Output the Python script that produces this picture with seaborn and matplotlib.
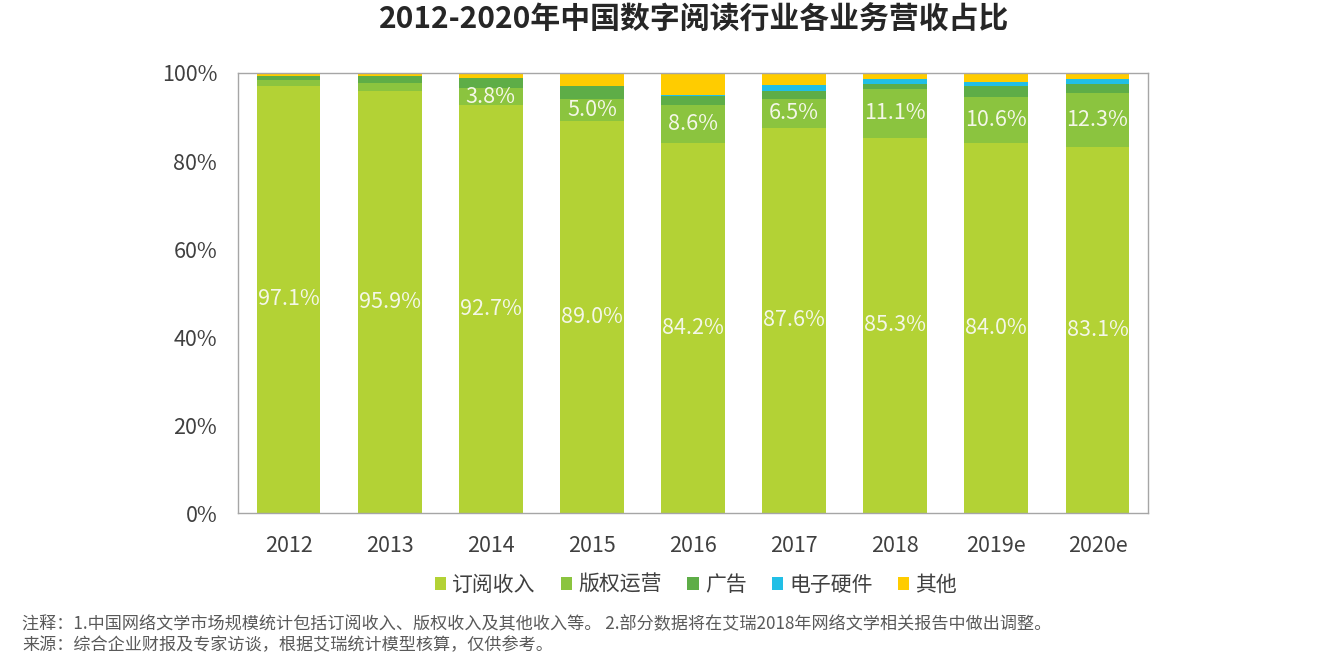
import numpy as np
import pandas as pd
import matplotlib.pyplot as plt
import seaborn as sns
from matplotlib.patches import Patch

years = ["2012", "2013", "2014", "2015", "2016", "2017", "2018", "2019e", "2020e"]
subscription = [97.1, 95.9, 92.7, 89.0, 84.2, 87.6, 85.3, 84.0, 83.1]
copyright_ops = [1.2, 1.8, 3.8, 5.0, 8.6, 6.5, 11.1, 10.6, 12.3]
advertising = [1.1, 1.7, 2.3, 3.1, 2.0, 1.7, 1.1, 2.5, 2.1]
hardware = [0.0, 0.0, 0.0, 0.0, 0.2, 1.4, 1.1, 0.8, 1.1]
other = [0.6, 0.6, 1.2, 2.9, 5.0, 2.8, 1.4, 2.1, 1.4]

series_names = ["订阅收入", "版权运营", "广告", "电子硬件", "其他"]
series_colors = ["#B3D235", "#8BC43F", "#5EAD47", "#21BFE6", "#FFCC00"]

sns.set_style("white")
plt.rcParams["font.family"] = ["Noto Sans CJK SC", "DejaVu Sans"]

df = pd.DataFrame({
    "year": years,
    "订阅收入": subscription,
    "版权运营": copyright_ops,
    "广告": advertising,
    "电子硬件": hardware,
    "其他": other,
})

# cumulative tops, drawn from the tallest down so each layer covers the one behind
cum = df[series_names].cumsum(axis=1)

fig = plt.figure(figsize=(13.34, 6.54), dpi=100)
ax = fig.add_axes([238 / 1334, 1 - 513 / 654, 910 / 1334, 440 / 654])

for name, color in reversed(list(zip(series_names, series_colors))):
    sns.barplot(x=df["year"], y=cum[name], color=color, saturation=1,
                width=0.63, linewidth=0, ax=ax)

# value labels
text_color = "#F4F7E8"
for i in range(len(years)):
    ax.text(i, subscription[i] / 2, f"{subscription[i]:.1f}%", ha="center", va="center",
            fontsize=15.5, color=text_color)
    if i >= 2:
        ax.text(i, subscription[i] + copyright_ops[i] / 2, f"{copyright_ops[i]:.1f}%",
                ha="center", va="center", fontsize=15.5, color=text_color)

ax.set_xlim(-0.5, len(years) - 0.5)
ax.set_ylim(0, 100)
ax.set_yticks([0, 20, 40, 60, 80, 100])
ax.set_yticklabels([f"{v}%" for v in [0, 20, 40, 60, 80, 100]])
ax.set_xlabel("")
ax.set_ylabel("")
ax.tick_params(axis="both", labelsize=15.5, colors="#404040", length=0)
ax.tick_params(axis="x", pad=16)
ax.tick_params(axis="y", pad=15)
for side in ["left", "right", "top", "bottom"]:
    ax.spines[side].set_visible(True)
    ax.spines[side].set_color("#A6A6A6")
    ax.spines[side].set_linewidth(1)

fig.text(0.52, 1 - 20 / 654, "2012-2020年中国数字阅读行业各业务营收占比", ha="center", va="center",
         fontsize=21.5, fontweight="bold", color="#262626")

handles = [Patch(facecolor=c, edgecolor="none") for c in series_colors]
fig.legend(handles, series_names, loc="center", bbox_to_anchor=(696 / 1334, 1 - 585 / 654),
           ncol=5, frameon=False, fontsize=15, handlelength=0.55, handleheight=0.55,
           handletextpad=0.3, columnspacing=1.2, labelcolor="#404040")

fig.text(22 / 1334, 1 - 624 / 654,
         "注释：1.中国网络文学市场规模统计包括订阅收入、版权收入及其他收入等。 2.部分数据将在艾瑞2018年网络文学相关报告中做出调整。",
         ha="left", va="center", fontsize=12.3, color="#595959")
fig.text(22 / 1334, 1 - 645 / 654,
         "来源：综合企业财报及专家访谈，根据艾瑞统计模型核算，仅供参考。",
         ha="left", va="center", fontsize=12.3, color="#595959")

fig.savefig("out.png", dpi=100)
